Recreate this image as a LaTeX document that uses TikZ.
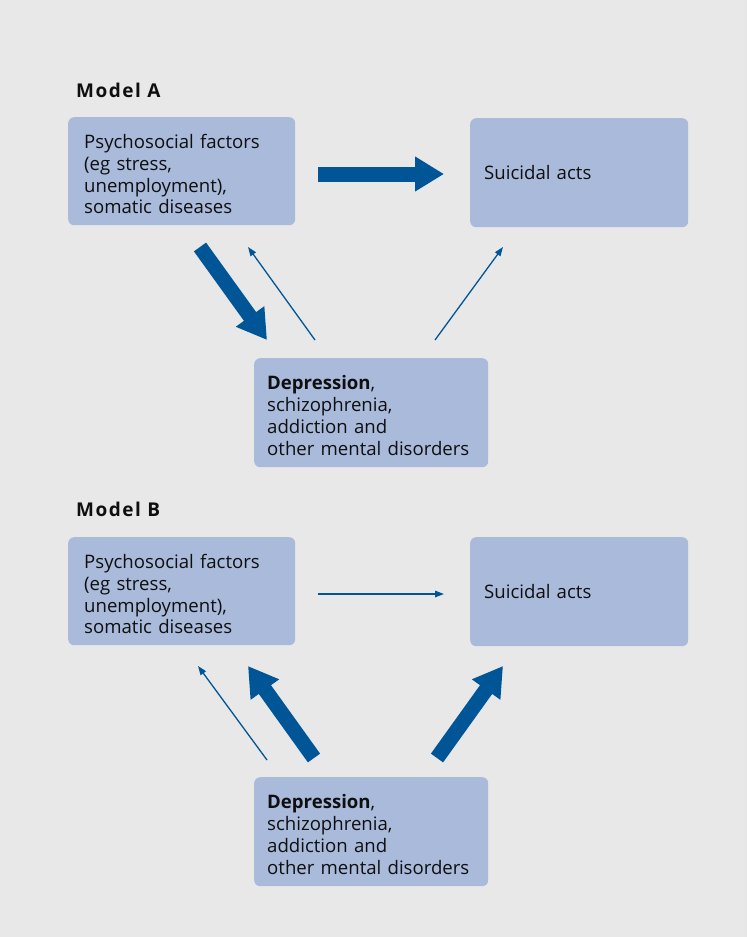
\documentclass[tikz,border=0pt]{standalone}
\usepackage{fontspec}
\setmainfont{Open Sans}
\usetikzlibrary{arrows.meta}
\definecolor{bg}{RGB}{232,232,232}
\definecolor{boxc}{RGB}{169,186,219}
\definecolor{arr}{RGB}{0,85,150}
\definecolor{txt}{RGB}{15,15,15}
\newcommand{\topstrut}{\rule{0pt}{20pt}}
\tikzset{
  box/.style={fill=boxc, rounded corners=6pt, anchor=north west, align=left, text=txt,
     font=\fontsize{18.6}{21.8}\selectfont, inner sep=0pt},
  title/.style={anchor=base west, font=\fontsize{19}{22}\selectfont\bfseries\addfontfeature{LetterSpace=8}, text=txt, inner sep=0pt},
  thick arrow/.style={draw=arr, line width=15pt, -{Triangle[length=29pt, width=33pt]}},
  thin arrow/.style={draw=arr, line width=1.3pt, -{Triangle[length=9pt, width=6.5pt]}}
}
\begin{document}
\begin{tikzpicture}[x=1pt,y=-1pt]
\fill[bg] (0,0) rectangle (747,937);
\useasboundingbox (0,0) rectangle (747,937);

% Model A
\node[title] (ta) at (76,97) {Model A};
\node[box, minimum width=227pt, minimum height=108pt, text width=195pt, inner xsep=16pt] (pa) at (68,117)
  {\topstrut Psychosocial factors\\(eg stress,\\unemployment),\\somatic diseases};
\node[box, minimum width=218pt, minimum height=109pt, text width=190pt, inner xsep=14pt] (sa) at (470,118)
  {Suicidal acts};
\node[box, minimum width=234pt, minimum height=109pt, text width=208pt, inner xsep=13pt] (da) at (254,358)
  {\topstrut\textbf{Depression},\\schizophrenia,\\addiction and\\other mental disorders};

\coordinate (a1s) at (318,174);
\coordinate (a1e) at (444,174);
\coordinate (a2s) at (200,247);
\coordinate (a2e) at (267,340);
\coordinate (a3s) at (315,340);
\coordinate (a3e) at (248,247);
\coordinate (a4s) at (435,340);
\coordinate (a4e) at (503,247);
\draw[thick arrow] (a1s) -- (a1e);
\draw[thick arrow] (a2s) -- (a2e);
\draw[thin arrow] (a3s) -- (a3e);
\draw[thin arrow] (a4s) -- (a4e);

% Model B
\node[title] (tb) at (76,516) {Model B};
\node[box, minimum width=227pt, minimum height=108pt, text width=195pt, inner xsep=16pt] (pb) at (68,537)
  {\topstrut Psychosocial factors\\(eg stress,\\unemployment),\\somatic diseases};
\node[box, minimum width=218pt, minimum height=109pt, text width=190pt, inner xsep=14pt] (sb) at (470,537)
  {Suicidal acts};
\node[box, minimum width=234pt, minimum height=109pt, text width=208pt, inner xsep=13pt] (db) at (254,777)
  {\topstrut\textbf{Depression},\\schizophrenia,\\addiction and\\other mental disorders};

\coordinate (b1s) at (318,594);
\coordinate (b1e) at (444,594);
\coordinate (b2s) at (267,760);
\coordinate (b2e) at (198,666);
\coordinate (b3s) at (314,758);
\coordinate (b3e) at (248,666);
\coordinate (b4s) at (437,758);
\coordinate (b4e) at (503,666);
\draw[thin arrow] (b1s) -- (b1e);
\draw[thin arrow] (b2s) -- (b2e);
\draw[thick arrow] (b3s) -- (b3e);
\draw[thick arrow] (b4s) -- (b4e);
\end{tikzpicture}
\end{document}
